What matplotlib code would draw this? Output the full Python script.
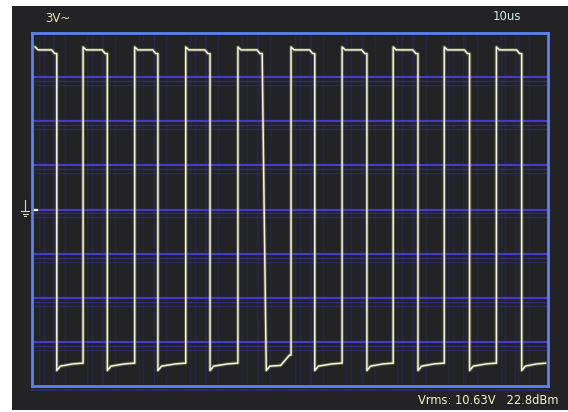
import numpy as np
import matplotlib.pyplot as plt

# scope settings
volts_per_div = 3
us_per_div = 10

# square wave edges (microseconds)
rise_t = [0.6, 9.9, 19.9, 29.8, 39.9, 50.2, 60.1, 70.0, 79.9, 90.0]
fall_t = [4.8, 14.6, 24.4, 34.5, 44.6, 54.8, 64.9, 74.8, 84.8, 94.9]
fall_t_bottom = [4.8, 14.6, 24.4, 34.5, 45.4, 54.8, 64.9, 74.8, 84.8, 94.9]
end_t = 99.8

# levels (volts)
high_peak = 11.05
high_v = 10.85
high_sag = 10.6
low_peak = -10.95
low_v = -10.65
# level ~2us before the next rise, and right before it
knee_v = [-10.5, -10.5, -10.5, -10.5, -10.6, -10.5, -10.5, -10.5, -10.5, -10.5]
pre_rise_v = [-10.45, -10.45, -10.45, -10.45, -9.9, -10.45, -10.45, -10.45, -10.45, -10.45]

grid_levels = [-9, -6, -3, 0, 3, 6, 9]
ghost_after_rise = [0.8, 1.7, 3.7]
ghost_after_fall = [-0.8, 1.5]

readout = "Vrms: 10.63V   22.8dBm"

W, H = 568, 412
fig = plt.figure(figsize=(W / 100, H / 100), dpi=100, facecolor="white")

# dark screen background (pixel coordinates)
bg = fig.add_axes([12 / W, 2 / H, (W - 12) / W, (H - 8) / H])
bg.set_facecolor("#232326")
bg.set_xlim(12, W)
bg.set_ylim(H - 2, 6)
bg.set_xticks([])
bg.set_yticks([])
for s in bg.spines.values():
    s.set_visible(False)

# ground marker
bg.plot([25, 25], [200, 211], color="#d8d8c0", lw=0.8)
bg.plot([21, 29], [211, 211], color="#d8d8c0", lw=0.8)
bg.plot([22.5, 27.5], [213.5, 213.5], color="#d8d8c0", lw=0.8)
bg.plot([24, 26], [216, 216], color="#d8d8c0", lw=0.8)

bg.text(45, 18, "3V~", color="#e6e6b0", fontsize=8.5, va="center", ha="left")
bg.text(493, 17, "10us", color="#c8f0e6", fontsize=8.5, va="center", ha="left")
bg.text(418, 400, readout, color="#f0f0c8", fontsize=8.3, va="center", ha="left")

# scope graticule area
left, right, top, bottom = 32, 548, 33, 386
ax = fig.add_axes([left / W, (H - bottom) / H, (right - left) / W, (bottom - top) / H])
ax.set_facecolor("none")
ax.set_xlim(0, us_per_div * 10)
ax.set_ylim(-4 * volts_per_div, 4 * volts_per_div)
ax.set_xticks([])
ax.set_yticks([])
for s in ax.spines.values():
    s.set_color("#5a82f0")
    s.set_linewidth(2.0)

# horizontal graticule lines with their ghost copies
for v in grid_levels:
    ax.axhline(v, color="#4a3cd8", lw=1.6, alpha=0.9)
    ax.axhline(v - 0.27, color="#3a30b0", lw=1.0, alpha=0.6)
    ax.axhline(v - 0.54, color="#3a30b0", lw=1.0, alpha=0.4)
ax.axhline(-12 - 0.3, color="#2a2a80", lw=1.2, clip_on=False)

# faint vertical ghosting around the edges
for r in rise_t:
    for d in ghost_after_rise:
        ax.axvline(r + d, color="#3a34c0", lw=1.0, alpha=0.18)
for f in fall_t:
    for d in ghost_after_fall:
        ax.axvline(f + d, color="#3a34c0", lw=1.0, alpha=0.15)

# build the trace
t, v = [], []
for i, r in enumerate(rise_t):
    f = fall_t[i]
    fb = fall_t_bottom[i]
    nxt = rise_t[i + 1] if i + 1 < len(rise_t) else end_t
    t += [r, r + 0.6, f - 1.0, f - 0.4, f, fb, fb + 0.7, nxt - 2.0, nxt - 0.3]
    v += [high_peak, high_v, high_v, high_sag, high_sag, low_peak, low_v,
          knee_v[i], pre_rise_v[i]]
    if i + 1 < len(rise_t):
        t += [nxt]
        v += [pre_rise_v[i]]

ax.plot(t, v, color="#a8b050", lw=2.6, alpha=0.35)
ax.plot(t, v, color="#f2f2ea", lw=1.1)

# channel zero marker
ax.plot([0.1, 0.9], [0, 0], color="white", lw=1.6, clip_on=False)

fig.savefig("out.png", dpi=100, facecolor="white")
